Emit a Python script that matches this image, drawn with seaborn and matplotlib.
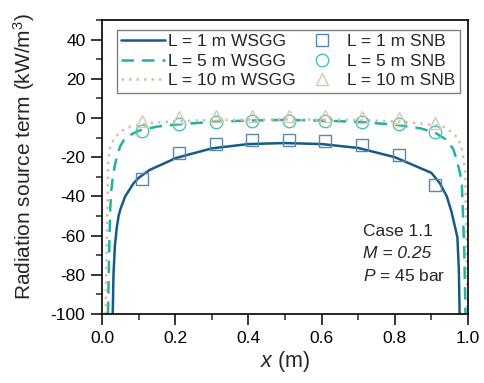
import numpy as np
import pandas as pd
import matplotlib
matplotlib.use("Agg")
import matplotlib.pyplot as plt
import seaborn as sns
from matplotlib.ticker import MultipleLocator, FormatStrFormatter

# ---- data ----
x_1m_wsgg = [0.029, 0.031, 0.035, 0.040, 0.045, 0.050, 0.063, 0.086, 0.10, 0.13, 0.18, 0.2, 0.3, 0.4,
             0.5, 0.6, 0.7, 0.8, 0.9, 0.923, 0.942, 0.955, 0.965, 0.971, 0.975, 0.977]
y_1m_wsgg = [-100, -80, -65, -56, -50, -46.5, -40, -33.3, -30.5, -26.5, -22.3, -20.5, -15.5, -13.3,
             -12.8, -13.3, -15.3, -20, -28, -33.3, -40, -48, -56, -61, -78, -100]

x_5m_wsgg = [0.016, 0.019, 0.022, 0.025, 0.03, 0.036, 0.049, 0.06, 0.077, 0.1, 0.15, 0.2, 0.3, 0.4,
             0.5, 0.6, 0.7, 0.8, 0.87, 0.91, 0.942, 0.96, 0.969, 0.978, 0.983, 0.986, 0.99, 0.993]
y_5m_wsgg = [-100, -70, -47, -37, -29, -23, -14.6, -11, -8.7, -6.5, -4.4, -3.4, -2, -1.3,
             -1, -1.3, -2, -3.4, -5.3, -7.5, -11.2, -16, -21.4, -28, -33.3, -48, -70, -100]

x_10m_wsgg = [0.01, 0.012, 0.015, 0.017, 0.022, 0.031, 0.049, 0.077, 0.13, 0.18, 0.3, 0.5, 0.7,
              0.82, 0.86, 0.9, 0.932, 0.96, 0.975, 0.983, 0.988, 0.992, 0.995, 0.998]
y_10m_wsgg = [-100, -70, -40, -21.4, -15, -11.2, -7, -4.4, -2.7, -1.9, -1, -0.8, -1,
              -1.9, -2.7, -3.5, -4.4, -7.8, -11, -16.3, -21, -28, -50, -100]

x_snb = [0.11, 0.21, 0.31, 0.41, 0.51, 0.61, 0.71, 0.81, 0.91]
y_1m_snb = [-31, -18, -13.5, -11, -11, -11.5, -13.8, -19, -34]
y_5m_snb = [-6.8, -3, -2, -1.5, -1.5, -1.5, -2, -3, -7.2]
y_10m_snb = [-1.5, 0.5, 0.8, 0.8, 0.8, 0.8, 0.5, 0, -2.5]

labels_line = ["L = 1 m WSGG", "L = 5 m WSGG", "L = 10 m WSGG"]
labels_mark = ["L = 1 m SNB", "L = 5 m SNB", "L = 10 m SNB"]

# ---- style ----
sns.set_theme(style="ticks")
plt.rcParams["font.family"] = ["Liberation Sans", "DejaVu Sans"]
plt.rcParams["mathtext.fontset"] = "custom"
plt.rcParams["mathtext.rm"] = "Liberation Sans"
plt.rcParams["mathtext.it"] = "Liberation Sans:italic"
plt.rcParams["mathtext.bf"] = "Liberation Sans:bold"
plt.rcParams["axes.unicode_minus"] = False

c1, c5, c10 = "#175a86", "#1fb2a5", "#d3c2a0"
m1, m5, m10 = "#5b87aa", "#48c3bb", "#d9c8ae"

fig = plt.figure(figsize=(4.84, 3.83), dpi=100)
ax = fig.add_axes([0.211, 0.180, 0.756, 0.768])

sns.lineplot(x=x_1m_wsgg, y=y_1m_wsgg, ax=ax, color=c1, lw=1.8, sort=False,
             label=labels_line[0])
sns.lineplot(x=x_5m_wsgg, y=y_5m_wsgg, ax=ax, color=c5, lw=1.8, sort=False,
             label=labels_line[1]).lines[-1].set_dashes((5, 3.2))
sns.lineplot(x=x_10m_wsgg, y=y_10m_wsgg, ax=ax, color=c10, lw=1.8, sort=False,
             label=labels_line[2]).lines[-1].set_dashes((1.0, 2.0))

for ys, mk, col, lab in [(y_1m_snb, "s", m1, labels_mark[0]),
                         (y_5m_snb, "o", m5, labels_mark[1]),
                         (y_10m_snb, "^", m10, labels_mark[2])]:
    sns.lineplot(x=x_snb, y=ys, ax=ax, linestyle="", marker=mk, markersize=9,
                 markerfacecolor="none", markeredgecolor=col, markeredgewidth=1.0,
                 color=col, label=lab)

ax.set_xlim(0, 1.0)
ax.set_ylim(-100, 50)
ax.xaxis.set_major_locator(MultipleLocator(0.2))
ax.xaxis.set_minor_locator(MultipleLocator(0.1))
ax.xaxis.set_major_formatter(FormatStrFormatter("%.1f"))
ax.set_yticks(np.arange(-100, 41, 20))
ax.yaxis.set_minor_locator(MultipleLocator(10))
ax.tick_params(which="major", direction="out", length=8, width=1.1, labelsize=12.5,
               colors="black", top=False, right=False, pad=4)
ax.tick_params(which="minor", direction="out", length=4, width=1.1, top=False, right=False)
for s in ax.spines.values():
    s.set_visible(True)
    s.set_linewidth(1.2)
    s.set_color("black")

ax.set_xlabel("$x$ (m)", fontsize=15.5, labelpad=2)
ax.set_ylabel("Radiation source term (kW/m$^3$)", fontsize=15)
ax.yaxis.set_label_coords(-0.178, 0.535)

handles, labs = ax.get_legend_handles_labels()
leg = ax.legend(handles, labs, ncol=2, loc="upper left", bbox_to_anchor=(0.041, 0.966),
                fontsize=12.5, frameon=True, fancybox=False, edgecolor="#7f7f7f",
                framealpha=1, handlelength=2.5, handletextpad=0.2, columnspacing=0.25,
                labelspacing=0.25, borderpad=0.25, borderaxespad=0.0)
leg.get_frame().set_linewidth(1.0)

ax.text(0.712, 0.282, "Case 1.1", transform=ax.transAxes, fontsize=12.5, va="center")
ax.text(0.712, 0.205, "M = 0.25", transform=ax.transAxes, fontsize=12.5, va="center",
        fontstyle="italic")
ax.text(0.712, 0.128, "$P$ = 45 bar", transform=ax.transAxes, fontsize=12.5, va="center")

fig.savefig("out.png", dpi=100)
